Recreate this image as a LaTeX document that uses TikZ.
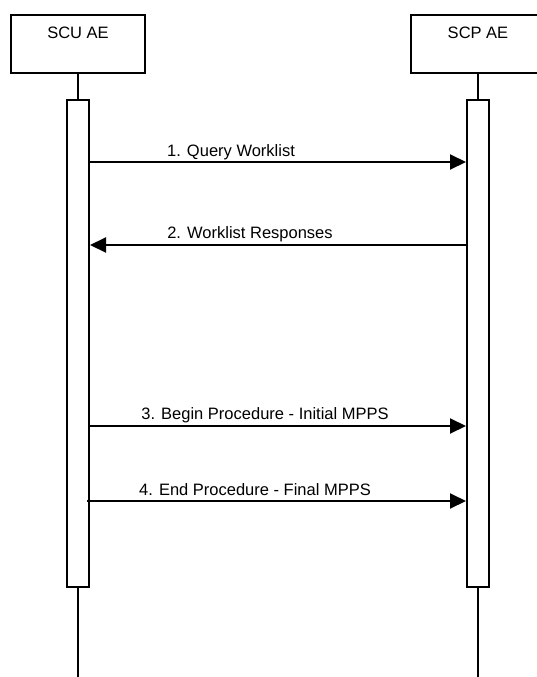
\documentclass[tikz,border=0pt]{standalone}
\usepackage{fontspec}
\setmainfont{Liberation Sans}
\usetikzlibrary{arrows.meta}
\begin{document}
\begin{tikzpicture}[x=1pt,y=-1pt,
  every node/.style={font=\fontsize{16.5}{20}\selectfont},
  actor/.style={draw,line width=2pt,minimum width=134pt,minimum height=58pt,inner sep=0pt},
  act/.style={draw,line width=2pt,fill=white,minimum width=22pt,minimum height=487pt,inner sep=0pt},
  life/.style={line width=2pt},
  msg/.style={line width=2pt,-{Triangle[length=16pt,width=15pt]}},
  lbl/.style={inner sep=0pt,anchor=base}]
\useasboundingbox (0,0) rectangle (537,677);
\begin{scope}
\clip (0,0) rectangle (537,677);
\node[actor] (scu) at (78,44) {};
\node[actor] (scp) at (478,44) {};
\end{scope}
\node[lbl] (scut) at (78,38) {SCU AE};
\node[lbl] (scpt) at (478,38) {SCP AE};
\coordinate (scuend) at (78,677);
\coordinate (scpend) at (478,677);
\node[act] (actl) at (78,343.5) {};
\node[act] (actr) at (478,343.5) {};
\draw[life] (scu.south) -- (actl.north);
\draw[life] (scp.south) -- (actr.north);
\draw[life] (actl.south) -- (scuend);
\draw[life] (actr.south) -- (scpend);
% messages
\coordinate (m1a) at (actl.east |- 0,162);
\coordinate (m1b) at (actr.west |- 0,162);
\draw[msg] (m1a) -- (m1b);
\node[lbl] (l1) at (231,156) {1. Query Worklist};
\coordinate (m2a) at (actr.west |- 0,245);
\coordinate (m2b) at (actl.east |- 0,245);
\draw[msg] (m2a) -- (m2b);
\node[lbl] (l2) at (250,238) {2. Worklist Responses};
\coordinate (m3a) at (actl.east |- 0,426);
\coordinate (m3b) at (actr.west |- 0,426);
\draw[msg] (m3a) -- (m3b);
\node[lbl] (l3) at (265,419) {3. Begin Procedure - Initial MPPS};
\coordinate (m4a) at (87,501);
\coordinate (m4b) at (actr.west |- 0,501);
\draw[msg] (m4a) -- (m4b);
\node[lbl] (l4) at (255,495) {4. End Procedure - Final MPPS};
\end{tikzpicture}
\end{document}
